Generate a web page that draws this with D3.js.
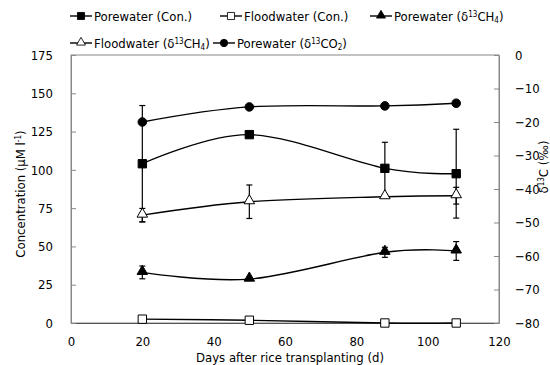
<!DOCTYPE html>
<html>
<head>
<meta charset="utf-8">
<script src="https://cdn.jsdelivr.net/npm/d3@7"></script>
<style>
  body { margin: 0; background: #fff; }
  svg text { font-family: "DejaVu Sans Condensed", "DejaVu Sans", sans-serif; font-stretch: condensed; font-size: 13px; fill: #000; }
</style>
</head>
<body>
<svg id="chart" width="550" height="365"></svg>
<script>
// data
const days = [20, 50, 88, 108]
const poreCon = [104, 123, 101, 97.5]
const poreConErr = [38, 0, 17, 29]
const floodCon = [2.5, 1.8, 0, 0]
const floodConErr = [0, 0, 0, 0]
const poreCH4 = [-64.9, -66.9, -58.9, -58.5]
const poreCH4Err = [1.9, 0, 1.5, 2.8]
const floodCH4 = [-47.8, -43.8, -42.3, -42.0]
const floodCH4Err = [2, 5, 0, 2.5]
const poreCO2 = [-20, -15.5, -15.2, -14.4]
const poreCO2Err = [0, 0, 0, 0]

const xTicks = [0, 20, 40, 60, 80, 100, 120]
const yLeftTicks = [0, 25, 50, 75, 100, 125, 150, 175]
const yRightTicks = [0, -10, -20, -30, -40, -50, -60, -70, -80]

const margin = { top: 55, right: 51, bottom: 42, left: 71 }
const width = 550, height = 365
const svg = d3.select('#chart')

const x = d3.scaleLinear().domain([0, 120]).range([margin.left, width - margin.right])
const yL = d3.scaleLinear().domain([0, 175]).range([height - margin.bottom, margin.top])
const yR = d3.scaleLinear().domain([-80, 0]).range([height - margin.bottom, margin.top])

const axisColor = '#888'

// frame
svg.append('rect')
  .attr('x', x(0)).attr('y', yL(175))
  .attr('width', x(120) - x(0)).attr('height', yL(0) - yL(175))
  .attr('fill', 'none').attr('stroke', axisColor).attr('stroke-width', 1)

const gx = svg.append('g').attr('transform', `translate(0,${yL(0)})`)
  .call(d3.axisBottom(x).tickValues(xTicks).tickSize(0).tickPadding(14))
const gl = svg.append('g').attr('transform', `translate(${x(0)},0)`)
  .call(d3.axisLeft(yL).tickValues(yLeftTicks).tickSizeInner(-5).tickSizeOuter(0).tickPadding(18))
const gr = svg.append('g').attr('transform', `translate(${x(120)},0)`)
  .call(d3.axisRight(yR).tickValues(yRightTicks).tickSizeInner(-5).tickSizeOuter(0).tickPadding(16))

for (const g of [gx, gl, gr]) {
  g.selectAll('.domain').attr('stroke', axisColor)
  g.selectAll('.tick line').attr('stroke', axisColor)
  g.selectAll('text').attr('font-size', null).attr('font-family', null)
}
gx.select('.domain').attr('stroke', '#555')

// axis titles
svg.append('text')
  .attr('x', 290).attr('y', 362)
  .attr('text-anchor', 'middle')
  .text('Days after rice transplanting (d)')

const lt = svg.append('text')
  .attr('transform', `translate(25,194) rotate(-90)`)
  .attr('text-anchor', 'middle')
lt.append('tspan').text('Concentration (μM l')
lt.append('tspan').attr('font-size', '8px').attr('baseline-shift', '45%').text('-1')
lt.append('tspan').text(')')

const rt = svg.append('text')
  .attr('transform', `translate(548,167) rotate(-90)`)
  .attr('text-anchor', 'middle')
rt.append('tspan').text('δ')
rt.append('tspan').attr('font-size', '8px').attr('baseline-shift', '45%').text('13')
rt.append('tspan').text('C (‰)')

// series
const series = [
  { vals: poreCon, err: poreConErr, y: yL, shape: 'square', fill: '#000' },
  { vals: floodCon, err: floodConErr, y: yL, shape: 'square', fill: '#fff' },
  { vals: poreCH4, err: poreCH4Err, y: yR, shape: 'triangle', fill: '#000' },
  { vals: floodCH4, err: floodCH4Err, y: yR, shape: 'triangle', fill: '#fff' },
  { vals: poreCO2, err: poreCO2Err, y: yR, shape: 'circle', fill: '#000' },
]

const symbolOf = shape => {
  if (shape === 'square') return d3.symbol(d3.symbolSquare, 70)
  if (shape === 'triangle') return d3.symbol(d3.symbolTriangle, 48)
  return d3.symbol(d3.symbolCircle, 58)
}

const line = d3.line().curve(d3.curveCardinal.tension(0))

const errG = svg.append('g')
const lineG = svg.append('g')
const markG = svg.append('g')

series.forEach(s => {
  const pts = days.map((d, i) => ({ d, v: s.vals[i], e: s.err[i] }))
  lineG.append('path')
    .attr('d', line(pts.map(p => [x(p.d), s.y(p.v)])))
    .attr('fill', 'none').attr('stroke', '#000').attr('stroke-width', 1.4)

  const eb = errG.selectAll(null).data(pts.filter(p => p.e > 0)).enter().append('g')
  eb.append('line')
    .attr('x1', p => x(p.d)).attr('x2', p => x(p.d))
    .attr('y1', p => s.y(p.v - p.e)).attr('y2', p => s.y(p.v + p.e))
    .attr('stroke', '#000').attr('stroke-width', 1.2)
  for (const sign of [-1, 1]) {
    eb.append('line')
      .attr('x1', p => x(p.d) - 3).attr('x2', p => x(p.d) + 3)
      .attr('y1', p => s.y(p.v + sign * p.e)).attr('y2', p => s.y(p.v + sign * p.e))
      .attr('stroke', '#000').attr('stroke-width', 1.2)
  }

  markG.selectAll(null).data(pts).enter().append('path')
    .attr('d', symbolOf(s.shape))
    .attr('transform', p => `translate(${x(p.d)},${s.y(p.v) + (s.shape === 'triangle' ? -1 : 0)})`)
    .attr('fill', s.fill).attr('stroke', '#000').attr('stroke-width', 1)
})

// legend
const legendItems = [
  { s: series[0], label: [['Porewater (Con.)']], x: 70, y: 16 },
  { s: series[1], label: [['Floodwater (Con.)']], x: 220, y: 16 },
  { s: series[2], label: [['Porewater (δ'], ['13', 'sup'], ['CH'], ['4', 'sub'], [')']], x: 370, y: 16 },
  { s: series[3], label: [['Floodwater (δ'], ['13', 'sup'], ['CH'], ['4', 'sub'], [')']], x: 70, y: 43 },
  { s: series[4], label: [['Porewater (δ'], ['13', 'sup'], ['CO'], ['2', 'sub'], [')']], x: 213, y: 43 },
]

const lg = svg.append('g')
legendItems.forEach(it => {
  const g = lg.append('g').attr('transform', `translate(${it.x},${it.y})`)
  g.append('line').attr('x1', 0).attr('x2', 22).attr('y1', 0).attr('y2', 0)
    .attr('stroke', '#000').attr('stroke-width', 1.4)
  g.append('path').attr('d', symbolOf(it.s.shape))
    .attr('transform', `translate(11,${it.s.shape === 'triangle' ? -0.5 : 0}) scale(0.85)`)
    .attr('fill', it.s.fill).attr('stroke', '#000').attr('stroke-width', 1)
  const t = g.append('text').attr('x', 24).attr('y', 4.5)
  it.label.forEach(([str, kind]) => {
    const ts = t.append('tspan').text(str)
    if (kind === 'sup') ts.attr('font-size', '8px').attr('baseline-shift', '45%')
    if (kind === 'sub') ts.attr('font-size', '8px').attr('baseline-shift', '-25%')
  })
})
</script>
</body>
</html>
